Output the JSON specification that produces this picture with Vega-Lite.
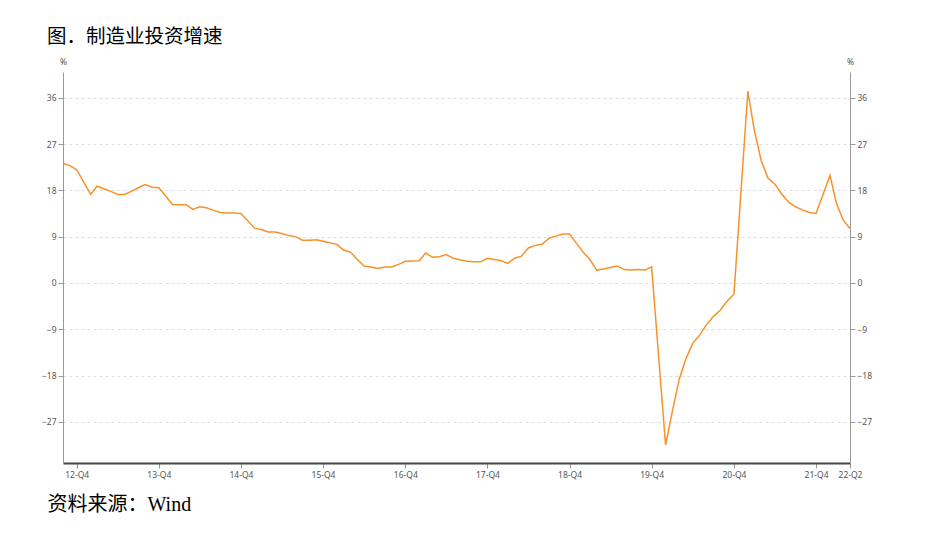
{
  "$schema": "https://vega.github.io/schema/vega-lite/v6.json",
  "autosize": "none",
  "width": 787,
  "height": 391,
  "padding": {"left": 63, "top": 72, "right": 90, "bottom": 70},
  "background": "white",
  "title": {
    "text": "图．制造业投资增速",
    "anchor": "start",
    "frame": "group",
    "font": "Liberation Serif, Noto Sans CJK SC",
    "fontSize": 19.5,
    "fontWeight": "normal",
    "color": "#000000",
    "dx": -16,
    "offset": 10
  },
  "data": {
    "values": [
      {"date": "2012/10/01", "growth": 23.2},
      {"date": "2012/11/01", "growth": 22.8},
      {"date": "2012/12/01", "growth": 22.0},
      {"date": "2013/02/01", "growth": 17.2},
      {"date": "2013/03/01", "growth": 18.8},
      {"date": "2013/04/01", "growth": 18.3},
      {"date": "2013/05/01", "growth": 17.8},
      {"date": "2013/06/01", "growth": 17.2},
      {"date": "2013/07/01", "growth": 17.2},
      {"date": "2013/08/01", "growth": 17.8},
      {"date": "2013/09/01", "growth": 18.5},
      {"date": "2013/10/01", "growth": 19.1},
      {"date": "2013/11/01", "growth": 18.6},
      {"date": "2013/12/01", "growth": 18.5},
      {"date": "2014/02/01", "growth": 15.2},
      {"date": "2014/03/01", "growth": 15.2},
      {"date": "2014/04/01", "growth": 15.2},
      {"date": "2014/05/01", "growth": 14.3},
      {"date": "2014/06/01", "growth": 14.8},
      {"date": "2014/07/01", "growth": 14.6},
      {"date": "2014/08/01", "growth": 14.1},
      {"date": "2014/09/01", "growth": 13.7},
      {"date": "2014/10/01", "growth": 13.6},
      {"date": "2014/11/01", "growth": 13.6},
      {"date": "2014/12/01", "growth": 13.5},
      {"date": "2015/02/01", "growth": 10.6},
      {"date": "2015/03/01", "growth": 10.4},
      {"date": "2015/04/01", "growth": 9.9},
      {"date": "2015/05/01", "growth": 9.9},
      {"date": "2015/06/01", "growth": 9.6},
      {"date": "2015/07/01", "growth": 9.2},
      {"date": "2015/08/01", "growth": 9.0},
      {"date": "2015/09/01", "growth": 8.3},
      {"date": "2015/10/01", "growth": 8.3},
      {"date": "2015/11/01", "growth": 8.4},
      {"date": "2015/12/01", "growth": 8.1},
      {"date": "2016/02/01", "growth": 7.5},
      {"date": "2016/03/01", "growth": 6.4},
      {"date": "2016/04/01", "growth": 6.0},
      {"date": "2016/05/01", "growth": 4.6},
      {"date": "2016/06/01", "growth": 3.3},
      {"date": "2016/07/01", "growth": 3.1},
      {"date": "2016/08/01", "growth": 2.8},
      {"date": "2016/09/01", "growth": 3.1},
      {"date": "2016/10/01", "growth": 3.1},
      {"date": "2016/11/01", "growth": 3.6},
      {"date": "2016/12/01", "growth": 4.2},
      {"date": "2017/02/01", "growth": 4.3},
      {"date": "2017/03/01", "growth": 5.8},
      {"date": "2017/04/01", "growth": 5.0},
      {"date": "2017/05/01", "growth": 5.1},
      {"date": "2017/06/01", "growth": 5.5},
      {"date": "2017/07/01", "growth": 4.8},
      {"date": "2017/08/01", "growth": 4.5},
      {"date": "2017/09/01", "growth": 4.2},
      {"date": "2017/10/01", "growth": 4.1},
      {"date": "2017/11/01", "growth": 4.1},
      {"date": "2017/12/01", "growth": 4.8},
      {"date": "2018/02/01", "growth": 4.3},
      {"date": "2018/03/01", "growth": 3.8},
      {"date": "2018/04/01", "growth": 4.8},
      {"date": "2018/05/01", "growth": 5.2},
      {"date": "2018/06/01", "growth": 6.8},
      {"date": "2018/07/01", "growth": 7.3},
      {"date": "2018/08/01", "growth": 7.5},
      {"date": "2018/09/01", "growth": 8.7},
      {"date": "2018/10/01", "growth": 9.1},
      {"date": "2018/11/01", "growth": 9.5},
      {"date": "2018/12/01", "growth": 9.5},
      {"date": "2019/02/01", "growth": 5.9},
      {"date": "2019/03/01", "growth": 4.6},
      {"date": "2019/04/01", "growth": 2.5},
      {"date": "2019/05/01", "growth": 2.7},
      {"date": "2019/06/01", "growth": 3.0},
      {"date": "2019/07/01", "growth": 3.3},
      {"date": "2019/08/01", "growth": 2.6},
      {"date": "2019/09/01", "growth": 2.5},
      {"date": "2019/10/01", "growth": 2.6},
      {"date": "2019/11/01", "growth": 2.5},
      {"date": "2019/12/01", "growth": 3.1},
      {"date": "2020/02/01", "growth": -31.5},
      {"date": "2020/03/01", "growth": -25.2},
      {"date": "2020/04/01", "growth": -18.8},
      {"date": "2020/05/01", "growth": -14.8},
      {"date": "2020/06/01", "growth": -11.7},
      {"date": "2020/07/01", "growth": -10.2},
      {"date": "2020/08/01", "growth": -8.1},
      {"date": "2020/09/01", "growth": -6.5},
      {"date": "2020/10/01", "growth": -5.3},
      {"date": "2020/11/01", "growth": -3.5},
      {"date": "2020/12/01", "growth": -2.2},
      {"date": "2021/02/01", "growth": 37.3},
      {"date": "2021/03/01", "growth": 29.8},
      {"date": "2021/04/01", "growth": 23.8},
      {"date": "2021/05/01", "growth": 20.4},
      {"date": "2021/06/01", "growth": 19.2},
      {"date": "2021/07/01", "growth": 17.3},
      {"date": "2021/08/01", "growth": 15.7},
      {"date": "2021/09/01", "growth": 14.8},
      {"date": "2021/10/01", "growth": 14.2},
      {"date": "2021/11/01", "growth": 13.7},
      {"date": "2021/12/01", "growth": 13.5},
      {"date": "2022/02/01", "growth": 20.9},
      {"date": "2022/03/01", "growth": 15.6},
      {"date": "2022/04/01", "growth": 12.2},
      {"date": "2022/05/01", "growth": 10.6}
    ]
  },
  "config": {
    "view": {"stroke": null},
    "axis": {
      "labelFont": "Noto Sans",
      "labelFontSize": 8.5,
      "labelColor": "#555555",
      "tickColor": "#999999",
      "tickSize": 5,
      "domainColor": "#999999"
    }
  },
  "layer": [
    {
      "mark": {"type": "line", "color": "#F7922A", "strokeWidth": 1.5},
      "encoding": {
        "x": {
          "field": "date",
          "type": "temporal",
          "scale": {"domain": [{"year": 2012, "month": 10, "date": 1}, {"year": 2022, "month": 5, "date": 1}]},
          "axis": {
            "values": [
              {"year": 2012, "month": 12, "date": 1},
              {"year": 2013, "month": 12, "date": 1},
              {"year": 2014, "month": 12, "date": 1},
              {"year": 2015, "month": 12, "date": 1},
              {"year": 2016, "month": 12, "date": 1},
              {"year": 2017, "month": 12, "date": 1},
              {"year": 2018, "month": 12, "date": 1},
              {"year": 2019, "month": 12, "date": 1},
              {"year": 2020, "month": 12, "date": 1},
              {"year": 2021, "month": 12, "date": 1},
              {"year": 2022, "month": 5, "date": 1}
            ],
            "labelExpr": "timeFormat(datum.value, '%y') + (month(datum.value) == 11 ? '-Q4' : '-Q2')",
            "grid": false,
            "domainColor": "#444444",
            "domainWidth": 2,
            "labelPadding": 2,
            "labelFlush": false,
            "title": "资料来源：Wind",
            "titleFont": "Liberation Serif, Noto Sans CJK SC",
            "titleFontSize": 20,
            "titleFontWeight": "normal",
            "titleColor": "#000000",
            "titleAnchor": "start",
            "titleAlign": "left",
            "titleBaseline": "alphabetic",
            "titleX": -16,
            "titleY": 47
          }
        },
        "y": {
          "field": "growth",
          "type": "quantitative",
          "scale": {"domain": [-35, 41], "nice": false, "zero": false},
          "axis": {
            "values": [-27, -18, -9, 0, 9, 18, 27, 36],
            "grid": true,
            "gridColor": "#dddddd",
            "gridDash": [3, 3],
            "labelPadding": 2,
            "title": "%",
            "titleAngle": 0,
            "titleFont": "Noto Sans",
            "titleFontSize": 8.5,
            "titleFontWeight": "normal",
            "titleColor": "#555555",
            "titleAlign": "center",
            "titleBaseline": "alphabetic",
            "titleX": 0,
            "titleY": -8
          }
        }
      }
    },
    {
      "mark": {"type": "line", "opacity": 0},
      "encoding": {
        "x": {"field": "date", "type": "temporal"},
        "y": {
          "field": "growth",
          "type": "quantitative",
          "scale": {"domain": [-35, 41], "nice": false, "zero": false},
          "axis": {
            "orient": "right",
            "values": [-27, -18, -9, 0, 9, 18, 27, 36],
            "grid": false,
            "labelPadding": 2,
            "title": "%",
            "titleAngle": 0,
            "titleFont": "Noto Sans",
            "titleFontSize": 8.5,
            "titleFontWeight": "normal",
            "titleColor": "#555555",
            "titleAlign": "center",
            "titleBaseline": "alphabetic",
            "titleX": 0,
            "titleY": -8
          }
        }
      }
    }
  ],
  "resolve": {"scale": {"y": "independent"}}
}
